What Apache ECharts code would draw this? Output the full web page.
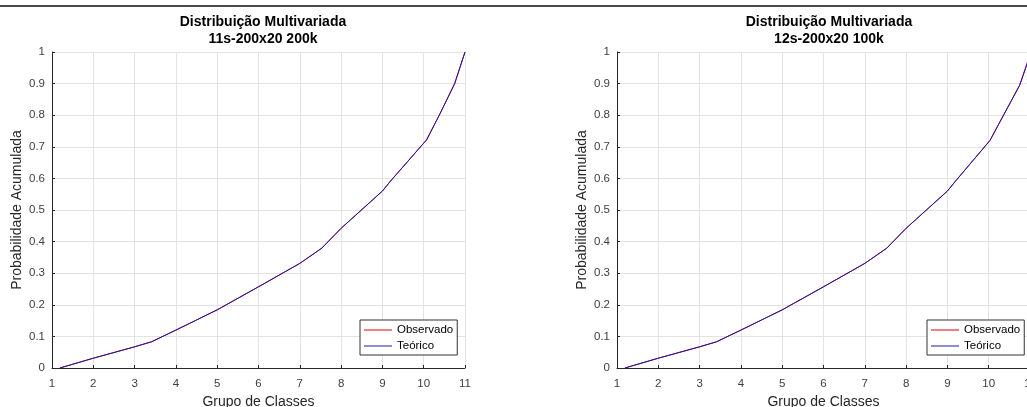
<!DOCTYPE html>
<html>
<head>
<meta charset="utf-8">
<script src="https://cdn.jsdelivr.net/npm/echarts@6/dist/echarts.min.js"></script>
<style>
html,body{margin:0;padding:0;background:#fff;}
#chart{width:1027px;height:407px;}
</style>
</head>
<body>
<div id="chart"></div>
<script>
// ---- data ----
const titles = ["Distribuição Multivariada\n11s-200x20 200k", "Distribuição Multivariada\n12s-200x20 100k"];
const xLabel = "Grupo de Classes";
const yLabel = "Probabilidade Acumulada";
const seriesNames = ["Observado", "Teórico"];

// left panel
const x1   = [1.19, 2.0, 3.0, 3.41, 4.0, 5.0, 6.0, 7.0, 7.53, 8.0, 9.0, 9.2, 10.07, 10.4, 10.75, 11.0];
const obs1 = [0.0, 0.031, 0.067, 0.083, 0.12, 0.184, 0.257, 0.331, 0.379, 0.442, 0.56, 0.592, 0.722, 0.806, 0.9, 1.0];
const teo1 = [0.0, 0.031, 0.067, 0.083, 0.12, 0.184, 0.257, 0.331, 0.379, 0.442, 0.56, 0.592, 0.722, 0.806, 0.9, 1.0];
// right panel
const x2   = [1.19, 2.0, 3.0, 3.41, 4.0, 5.0, 6.0, 7.0, 7.53, 8.0, 9.0, 9.2, 10.03, 10.4, 10.75, 11.0];
const obs2 = [0.0, 0.031, 0.067, 0.083, 0.12, 0.184, 0.257, 0.331, 0.379, 0.442, 0.56, 0.592, 0.72, 0.81, 0.895, 0.99];
const teo2 = [0.0, 0.031, 0.067, 0.083, 0.12, 0.184, 0.257, 0.331, 0.379, 0.442, 0.56, 0.592, 0.72, 0.81, 0.895, 0.99];

const xMin = 1, xMax = 11, xStep = 1;
const yMin = 0, yMax = 1, yStep = 0.1;

// ---- chart ----
const FONT = '"Liberation Sans", Arial, Helvetica, sans-serif';
const pairs = (xs, ys) => xs.map((x, i) => [x, ys[i]]);
const grids = [
  {left: 52, top: 52, width: 413, height: 316, outerBoundsMode: 'none', containLabel: false},
  {left: 617, top: 52, width: 413, height: 316, outerBoundsMode: 'none', containLabel: false}
];
const centers = [258, 824];

function xAxis(i){
  return {
    type: 'value', gridIndex: i, min: xMin, max: xMax, interval: xStep,
    name: xLabel, nameLocation: 'middle', nameGap: 26,
    nameTextStyle: {fontFamily: FONT, fontSize: 14, color: '#262626'},
    axisLine: {show: true, onZero: false, lineStyle: {color: '#262626', width: 1}},
    axisTick: {show: true, inside: true, length: 3, lineStyle: {color: '#262626'}},
    axisLabel: {fontFamily: FONT, fontSize: 11.5, color: '#404040', margin: 10},
    splitLine: {show: true, lineStyle: {color: '#e3e3e3', width: 1}}
  };
}
function yAxis(i){
  return {
    type: 'value', gridIndex: i, min: yMin, max: yMax, interval: yStep,
    name: yLabel, nameLocation: 'middle', nameGap: 28, nameRotate: 90,
    nameTextStyle: {fontFamily: FONT, fontSize: 14, color: '#262626'},
    axisLine: {show: true, onZero: false, lineStyle: {color: '#262626', width: 1}},
    axisTick: {show: true, inside: true, length: 3, lineStyle: {color: '#262626'}},
    axisLabel: {fontFamily: FONT, fontSize: 11.5, color: '#404040', margin: 7},
    splitLine: {show: true, lineStyle: {color: '#e3e3e3', width: 1}}
  };
}
function legend(left){
  return {
    data: seriesNames, orient: 'vertical', left: left, top: 320,
    icon: 'rect', itemWidth: 28, itemHeight: 1, itemGap: 4, padding: [4, 4, 3, 4],
    borderColor: '#333', borderWidth: 1, backgroundColor: '#fff', borderRadius: 0,
    textStyle: {fontFamily: FONT, fontSize: 11.5, color: '#000'},
    selectedMode: false
  };
}
function line(name, xi, data, color){
  return {
    name: name, type: 'line', xAxisIndex: xi, yAxisIndex: xi, data: data,
    symbol: 'none', showSymbol: false, smooth: false, animation: false,
    lineStyle: {color: color, width: 1}, itemStyle: {color: color}
  };
}

const option = {
  animation: false,
  backgroundColor: '#fff',
  title: titles.map((t, i) => ({
    text: t, left: centers[i], top: 9, textAlign: 'center',
    textStyle: {fontFamily: FONT, fontSize: 14, fontWeight: 'bold', color: '#000', lineHeight: 17}
  })),
  grid: grids,
  xAxis: [xAxis(0), xAxis(1)],
  yAxis: [yAxis(0), yAxis(1)],
  legend: [legend(360), legend(927)],
  series: [
    line(seriesNames[0], 0, pairs(x1, obs1), '#e00000'),
    line(seriesNames[1], 0, pairs(x1, teo1), '#1a1aa8'),
    line(seriesNames[0], 1, pairs(x2, obs2), '#e00000'),
    line(seriesNames[1], 1, pairs(x2, teo2), '#1a1aa8')
  ],
  graphic: [{
    type: 'line', shape: {x1: 0, y1: 6, x2: 1027, y2: 6},
    style: {stroke: '#4a4a4a', lineWidth: 2}, silent: true
  }]
};

const chart = echarts.init(document.getElementById('chart'), null, {renderer: 'canvas'});
chart.setOption(option);
</script>
</body>
</html>
